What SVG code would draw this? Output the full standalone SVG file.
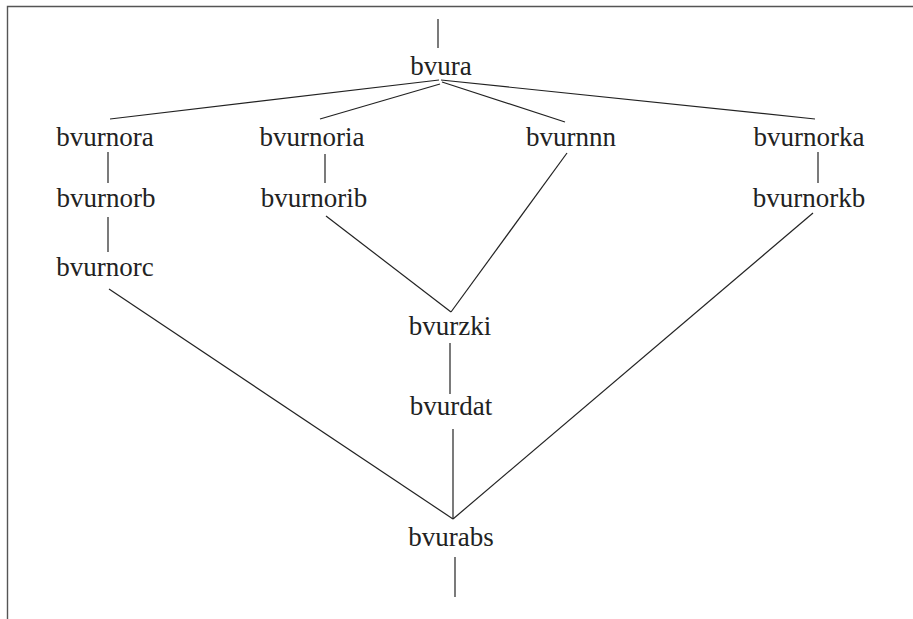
<svg xmlns="http://www.w3.org/2000/svg" width="913" height="619" viewBox="0 0 913 619">
  <style>
    .frame { fill: none; stroke: #555; stroke-width: 1.4; }
    .edge { stroke: #222; stroke-width: 1.2; fill: none; }
    .label { font-family: "Liberation Serif", "DejaVu Serif", serif; font-size: 27px; fill: #222; text-anchor: middle; }
  </style>
  <rect width="913" height="619" fill="#fff"/>
  <!-- open frame: top and left sides only -->
  <path class="frame" d="M7.5 619 V6.5 H913"/>

  <g id="connectors">
    <line class="edge" x1="438" y1="19" x2="438" y2="48"/>
    <line class="edge" x1="439" y1="80" x2="110" y2="119"/>
    <line class="edge" x1="440" y1="84" x2="320" y2="119"/>
    <line class="edge" x1="442" y1="82" x2="565" y2="122"/>
    <line class="edge" x1="441" y1="80" x2="815" y2="119"/>
    <line class="edge" x1="108" y1="152" x2="108" y2="183"/>
    <line class="edge" x1="108" y1="217" x2="108" y2="252"/>
    <line class="edge" x1="325" y1="154" x2="325" y2="183"/>
    <line class="edge" x1="818" y1="152" x2="818" y2="183"/>
    <line class="edge" x1="326" y1="216" x2="451" y2="312"/>
    <line class="edge" x1="567" y1="153" x2="451" y2="312"/>
    <line class="edge" x1="450" y1="343" x2="450" y2="394"/>
    <line class="edge" x1="453" y1="429" x2="453" y2="519"/>
    <line class="edge" x1="109" y1="289" x2="453" y2="519"/>
    <line class="edge" x1="813" y1="213" x2="453" y2="519"/>
    <line class="edge" x1="455" y1="557" x2="455" y2="597"/>
  </g>

  <g id="bvura"><text class="label" x="441" y="75">bvura</text></g>
  <g id="bvurnora"><text class="label" x="105" y="146">bvurnora</text></g>
  <g id="bvurnorb"><text class="label" x="106" y="207">bvurnorb</text></g>
  <g id="bvurnorc"><text class="label" x="105" y="276">bvurnorc</text></g>
  <g id="bvurnoria"><text class="label" x="312" y="146">bvurnoria</text></g>
  <g id="bvurnorib"><text class="label" x="314" y="207">bvurnorib</text></g>
  <g id="bvurnnn"><text class="label" x="571" y="146">bvurnnn</text></g>
  <g id="bvurnorka"><text class="label" x="809" y="146">bvurnorka</text></g>
  <g id="bvurnorkb"><text class="label" x="809" y="207">bvurnorkb</text></g>
  <g id="bvurzki"><text class="label" x="450" y="335">bvurzki</text></g>
  <g id="bvurdat"><text class="label" x="451" y="415">bvurdat</text></g>
  <g id="bvurabs"><text class="label" x="451" y="546">bvurabs</text></g>
</svg>
